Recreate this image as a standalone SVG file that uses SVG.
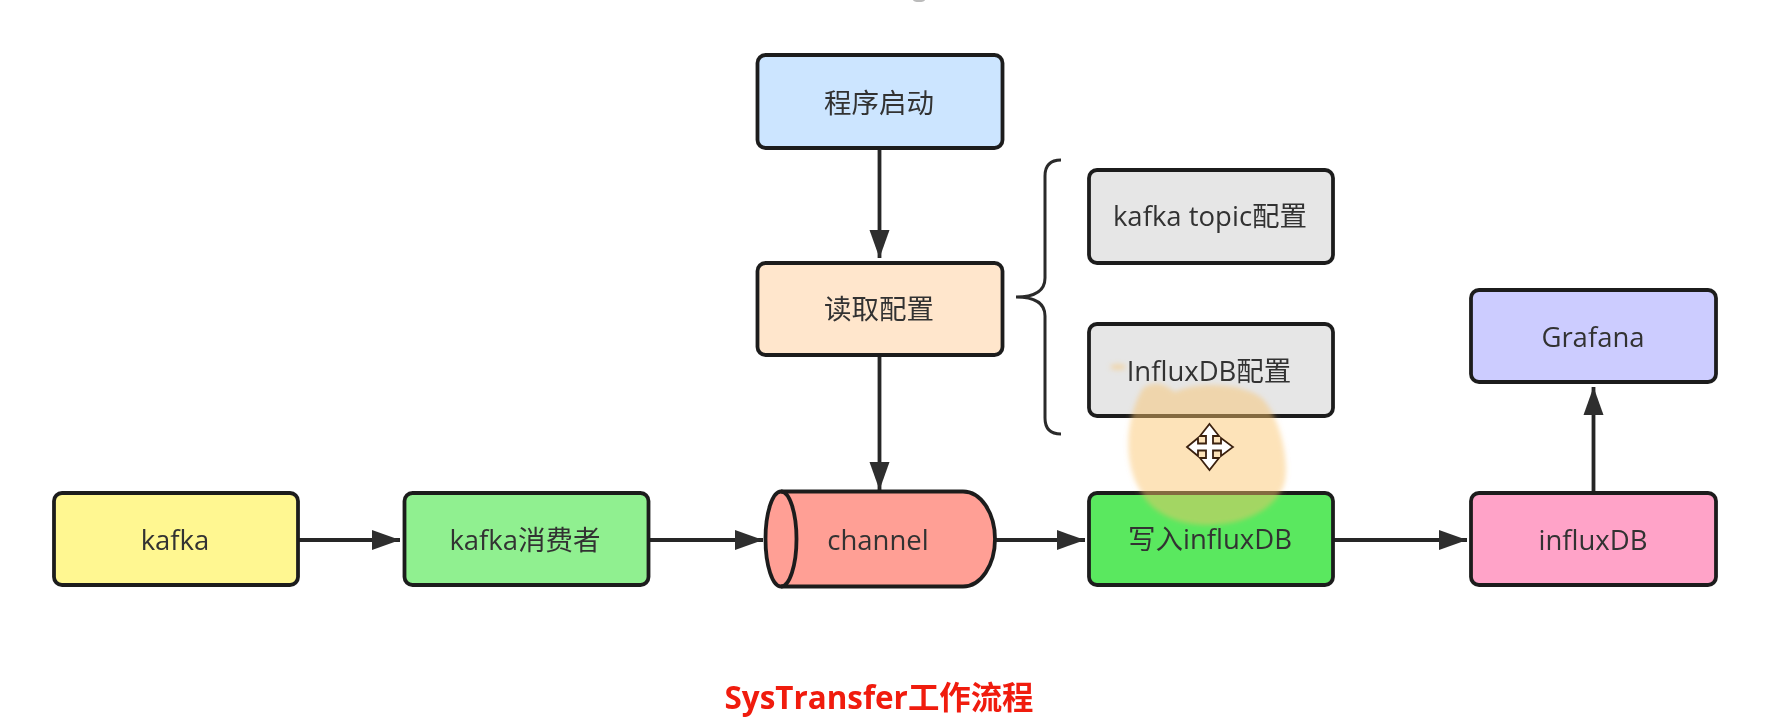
<svg xmlns="http://www.w3.org/2000/svg" width="1784" height="724" viewBox="0 0 1784 724">
<style>
.box{stroke:#1f1f1f;stroke-width:3.8}
.lbl{font-family:"Open Sans","Noto Sans CJK SC",sans-serif;font-size:27.500px;fill:#333;text-anchor:middle;dominant-baseline:central}
.edge{fill:none;stroke:#262626;stroke-width:3.800;marker-end:url(#arrow)}
.title{font-family:"Open Sans","Noto Sans CJK SC",sans-serif;font-size:31.400px;font-weight:700;fill:#f01a10;text-anchor:middle;dominant-baseline:central}
.blob{fill:#fac168;opacity:.46}
</style>
<defs>
<marker id="arrow" markerUnits="userSpaceOnUse" markerWidth="30" markerHeight="22" refX="28" refY="11" orient="auto"><path d="M0 1L28 11L0 21Z" fill="#2f2f2f"/></marker>
<filter id="soft" x="-2%" y="-2%" width="104%" height="104%"><feGaussianBlur stdDeviation="0.7"/></filter>
<filter id="softer" x="-20%" y="-20%" width="140%" height="140%"><feGaussianBlur stdDeviation="2.500"/></filter>
</defs>
<rect width="1784" height="724" fill="#fff"/>
<g filter="url(#soft)">
<ellipse cx="919" cy="0" rx="6" ry="2" fill="#bbb"/>
<g id="connectors">
<path class="edge" d="M879.500 149V258"/>
<path class="edge" d="M879.500 356V490"/>
<path class="edge" d="M298 540H400"/>
<path class="edge" d="M649 540H763"/>
<path class="edge" d="M995 540H1085"/>
<path class="edge" d="M1333 540H1467"/>
<path class="edge" d="M1593.500 492V387"/>
</g>
<g id="n-start"><rect class="box" x="757.500" y="55" width="245" height="93" rx="8" fill="#cce5ff"/><text class="lbl" x="879" y="102">程序启动</text></g>
<g id="n-read"><rect class="box" x="757.500" y="263" width="245" height="92" rx="8" fill="#ffe6cc"/><text class="lbl" x="879" y="308">读取配置</text></g>
<g id="brace"><path fill="none" stroke="#2b2b2b" stroke-width="3" d="M1061 160C1050 160 1045 166 1045 176V278C1045 290 1036 297 1016 297C1036 297 1045 304 1045 316V418C1045 428 1050 434 1061 434"/></g>
<g id="n-topic"><rect class="box" x="1089" y="170" width="244" height="93" rx="8" fill="#e6e6e6"/><text class="lbl" x="1210" y="215">kafka topic配置</text></g>
<g id="n-influxcfg"><rect class="box" x="1089" y="324" width="244" height="92" rx="8" fill="#e6e6e6"/><text class="lbl" x="1209" y="370">InfluxDB配置</text></g>
<g id="n-kafka"><rect class="box" x="54" y="493" width="244" height="92" rx="8" fill="#fff791"/><text class="lbl" x="175" y="539">kafka</text></g>
<g id="n-consumer"><rect class="box" x="404.500" y="493" width="244" height="92" rx="8" fill="#90f090"/><text class="lbl" x="525" y="539">kafka消费者</text></g>
<g id="n-channel"><path class="box" fill="#ff9f95" d="M781 491.500H963A32 47.500 0 0 1 963 586.500H781A15.500 47.500 0 0 1 781 491.500Z"/><path class="box" fill="none" d="M781 491.500A15.500 47.500 0 0 1 781 586.500"/><text class="lbl" x="878" y="539">channel</text></g>
<g id="n-write"><rect class="box" x="1089" y="493" width="244" height="92" rx="8" fill="#5ae85f"/><text class="lbl" x="1210" y="538">写入influxDB</text></g>
<g id="n-influx"><rect class="box" x="1471" y="493" width="245" height="92" rx="8" fill="#ffa3c8"/><text class="lbl" x="1593" y="539">influxDB</text></g>
<g id="n-grafana"><rect class="box" x="1471" y="290" width="245" height="92" rx="8" fill="#ccccff"/><text class="lbl" x="1593" y="336">Grafana</text></g>
<g id="highlight" filter="url(#softer)"><path class="blob" d="M1143 388C1155 380 1165 384 1175 392C1195 382 1240 382 1262 398C1282 420 1290 465 1284 485C1274 512 1240 525 1208 525C1176 525 1150 512 1140 490C1124 465 1124 420 1143 388Z"/><ellipse class="blob" cx="1118" cy="367" rx="8" ry="3"/></g>
<g id="cursor" fill="#fff" stroke="#3a2010" stroke-width="1.800"><path d="M1209.500 424L1219 436H1213V443.500H1221V438L1233 447L1221 456V450.500H1213V458H1219L1209.500 470L1200 458H1206V450.500H1198V456L1187 447L1198 438V443.500H1206V436H1200Z"/></g>
<text class="title" x="879" y="696">SysTransfer工作流程</text>
</g>
</svg>
